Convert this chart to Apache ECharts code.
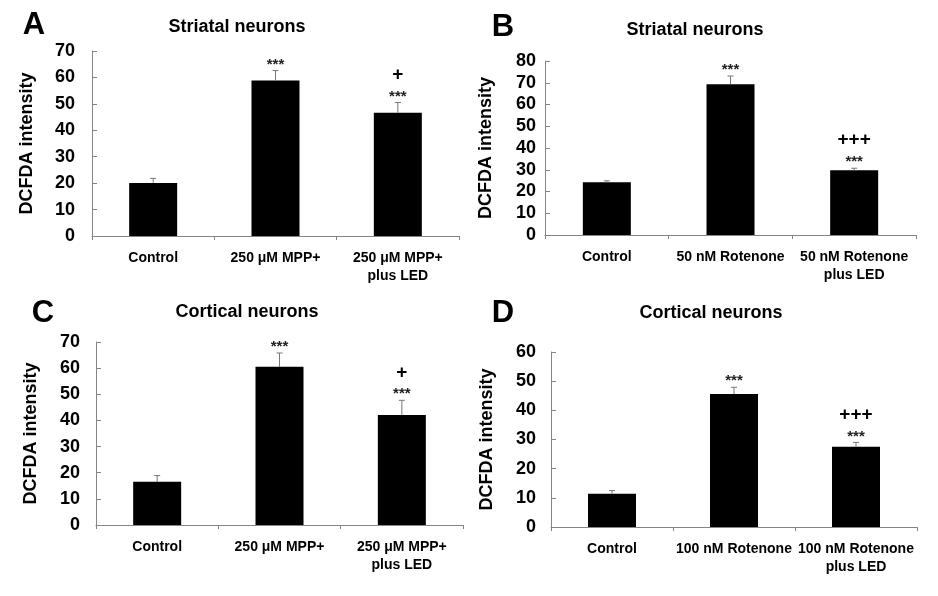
<!DOCTYPE html>
<html>
<head>
<meta charset="utf-8">
<script src="https://cdn.jsdelivr.net/npm/echarts@6/dist/echarts.min.js"></script>
<style>html,body{margin:0;padding:0;background:#fff;}#c{width:938px;height:596px;}</style>
</head>
<body>
<div id="c"></div>
<script>
// ---- data ----
const catsA = ['Control', '250 μM MPP+', '250 μM MPP+\nplus LED'];
const catsB = ['Control', '50 nM Rotenone', '50 nM Rotenone\nplus LED'];
const catsC = ['Control', '250 μM MPP+', '250 μM MPP+\nplus LED'];
const catsD = ['Control', '100 nM Rotenone', '100 nM Rotenone\nplus LED'];

const valsA = [20.1, 58.8, 46.6];
const semA  = [1.7, 3.8, 3.9];
const valsB = [24.2, 69.3, 29.8];
const semB  = [0.7, 3.8, 0.9];
const valsC = [16.5, 60.5, 42.1];
const semC  = [2.4, 5.3, 5.6];
const valsD = [11.4, 45.6, 27.5];
const semD  = [1.1, 2.3, 1.5];

const starsA = ['', '***', '***'];
const plusA  = ['', '', '+'];
const starsB = ['', '***', '***'];
const plusB  = ['', '', '+++'];
const starsC = ['', '***', '***'];
const plusC  = ['', '', '+'];
const starsD = ['', '***', '***'];
const plusD  = ['', '', '+++'];

const yMaxes = [70, 80, 70, 60];
const panelTitles = ['Striatal neurons', 'Striatal neurons', 'Cortical neurons', 'Cortical neurons'];
const panelLetters = ['A', 'B', 'C', 'D'];
const yName = 'DCFDA intensity';

// ---- layout ----
const FONT = '"Liberation Sans", Arial, sans-serif';
const grids = [
  {left: 92, top: 51, width: 367, height: 185},
  {left: 545, top: 61, width: 371, height: 174},
  {left: 96, top: 342, width: 367, height: 183},
  {left: 551, top: 352, width: 366, height: 175}
];
const labelMargins = [17, 9, 16, 15];
const nameGaps = [56, 50, 56, 55];
const titlePos = [[237, 27], [695, 30], [247, 312], [711, 313]];
const letterPos = [[34, 25], [503, 27], [43, 313], [503, 313]];

const cats = [catsA, catsB, catsC, catsD];
const vals = [valsA, valsB, valsC, valsD];
const sems = [semA, semB, semC, semD];
const stars = [starsA, starsB, starsC, starsD];
const pluses = [plusA, plusB, plusC, plusD];

const axisGray = '#858585';

const option = {
  animation: false,
  backgroundColor: '#ffffff',
  graphic: [],
  grid: grids,
  xAxis: [],
  yAxis: [],
  series: []
};

for (let k = 0; k < 4; k++) {
  option.graphic.push({
    type: 'text', x: titlePos[k][0], y: titlePos[k][1],
    style: {text: panelTitles[k], textAlign: 'center', textVerticalAlign: 'middle',
      fontFamily: FONT, fontWeight: 'bold', fontSize: 18, fill: '#000'}
  });
  option.graphic.push({
    type: 'text', x: letterPos[k][0], y: letterPos[k][1],
    style: {text: panelLetters[k], textAlign: 'center', textVerticalAlign: 'middle',
      fontFamily: FONT, fontWeight: 'bold', fontSize: 31, fill: '#000'}
  });
  option.xAxis.push({
    type: 'category', gridIndex: k, data: cats[k],
    axisLine: {lineStyle: {color: axisGray, width: 1}},
    axisTick: {show: true, length: 4, inside: false, lineStyle: {color: axisGray}},
    axisLabel: {fontFamily: FONT, fontWeight: 'bold', fontSize: 14, color: '#000', margin: 13, lineHeight: 18, interval: 0}
  });
  option.yAxis.push({
    type: 'value', gridIndex: k, min: 0, max: yMaxes[k], interval: 10,
    name: yName, nameLocation: 'middle', nameRotate: 90, nameGap: nameGaps[k],
    nameTextStyle: {fontFamily: FONT, fontWeight: 'bold', fontSize: 18, color: '#000'},
    axisLine: {show: true, lineStyle: {color: axisGray, width: 1}},
    axisTick: {show: true, inside: true, length: 5, lineStyle: {color: axisGray}},
    splitLine: {show: false},
    axisLabel: {fontFamily: FONT, fontWeight: 'bold', fontSize: 18, color: '#000', margin: labelMargins[k]}
  });
  option.series.push({
    type: 'bar', xAxisIndex: k, yAxisIndex: k, data: vals[k], barWidth: 48,
    itemStyle: {color: '#000'}, z: 2
  });
  const kk = k;
  option.series.push({
    type: 'custom', xAxisIndex: k, yAxisIndex: k, z: 3, clip: false,
    data: vals[k].map((v, i) => [i, v, sems[kk][i]]),
    renderItem: function (params, api) {
      const i = params.dataIndex;
      const v = api.value(1), e = api.value(2);
      const p0 = api.coord([i, v]);
      const p1 = api.coord([i, v + e]);
      const children = [
        {type: 'line', shape: {x1: p0[0], y1: p0[1], x2: p1[0], y2: p1[1]}, style: {stroke: '#777', lineWidth: 1}},
        {type: 'line', shape: {x1: p1[0] - 3, y1: p1[1], x2: p1[0] + 3, y2: p1[1]}, style: {stroke: '#777', lineWidth: 1}}
      ];
      const s = stars[kk][i];
      if (s) children.push({type: 'text', style: {text: s, x: p1[0], y: p1[1] - 6, textAlign: 'center', textVerticalAlign: 'middle', fontFamily: FONT, fontWeight: 'bold', fontSize: 15, fill: '#222'}});
      const p = pluses[kk][i];
      if (p) children.push({type: 'text', style: {text: p, x: p1[0], y: p1[1] - 28, textAlign: 'center', textVerticalAlign: 'middle', fontFamily: FONT, fontWeight: 'bold', fontSize: 19, fill: '#000'}});
      return {type: 'group', children: children};
    }
  });
}

const chart = echarts.init(document.getElementById('c'), null, {renderer: 'canvas'});
chart.setOption(option);
</script>
</body>
</html>
